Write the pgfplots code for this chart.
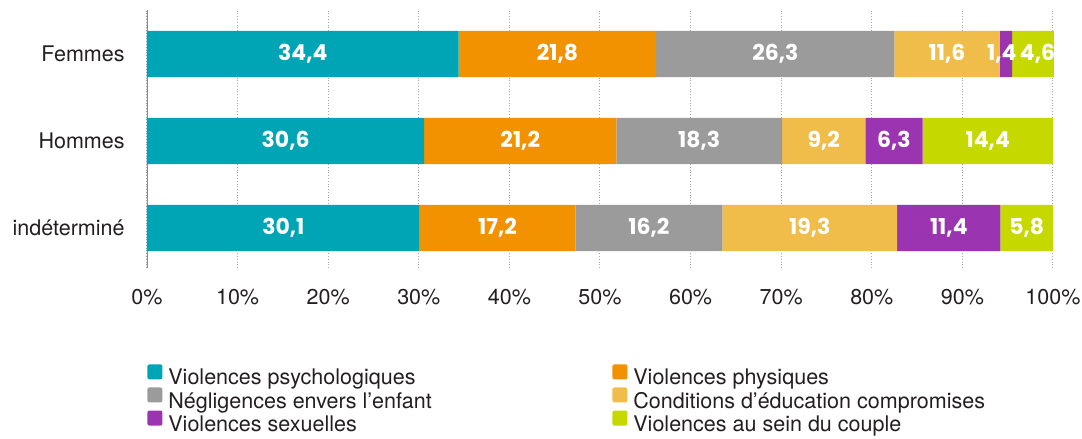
\documentclass[border=0pt]{standalone}
\usepackage{pgfplots}
\pgfplotsset{compat=1.18}
\usepackage{fontspec}
\setmainfont{TeX Gyre Heros}
\newfontfamily\lblfont{Poppins}
\definecolor{cpsy}{HTML}{00A5B5}
\definecolor{cphy}{HTML}{F39200}
\definecolor{cneg}{HTML}{9B9B9B}
\definecolor{cedu}{HTML}{F0BC4A}
\definecolor{csex}{HTML}{9B34B0}
\definecolor{ccou}{HTML}{C5D800}
\definecolor{txt}{HTML}{231F20}
\begin{document}
\begin{tikzpicture}
\begin{axis}[
  name=ax, at={(0,0)}, anchor=south west,
  scale only axis, width=453.45bp, height=129bp,
  xbar stacked, bar width=0.53,
  xmin=0, xmax=100.1, ymin=-0.46, ymax=2.506,
  ytick={0,1,2}, yticklabels={indéterminé,Hommes,Femmes},
  xtick={0,10,...,100},
  xticklabel={\pgfmathprintnumber{\tick}\%},
  major tick length=0pt,
  axis line style={draw=none},
  xmajorgrids, grid style={densely dotted, black!35, line width=0.5bp},
  ymajorgrids=false,
  /pgf/number format/assume math mode=true,
  ticklabel style={font=\fontsize{10.8}{13}\selectfont, text=txt},
  yticklabel style={anchor=east, inner sep=0pt, xshift=-11bp},
  xticklabel style={anchor=north, inner sep=0pt, yshift=-10.5bp},
  point meta=rawx,
  visualization depends on={rawy \as \ry},
  nodes near coords={\pgfmathprintnumber[use comma, fixed, fixed zerofill, precision=1]{\pgfplotspointmeta}},
  every node near coord/.append style={anchor=center, inner sep=0pt, text=white, font=\fontsize{11}{13}\lblfont\bfseries},
  legend columns=2,
  legend style={at={(0,-0.372)}, anchor=north west, draw=none, fill=none, inner sep=0pt,
    font=\fontsize{10.8}{12}\selectfont, text=txt, row sep=-0.75bp,
    nodes={inner sep=0pt, text height=8bp, text depth=2bp, anchor=west},
    /tikz/every odd column/.style={column sep=3bp}},
  legend image code/.code={\fill[#1, rounded corners=1bp] (0bp,-0.2bp) rectangle (7.5bp,7.3bp);},
]
\addplot[fill=cpsy, draw=none] coordinates {(34.4,2) (30.6,1) (30.1,0)};
\addplot[fill=cphy, draw=none] coordinates {(21.8,2) (21.2,1) (17.2,0)};
\addplot[fill=cneg, draw=none] coordinates {(26.3,2) (18.3,1) (16.2,0)};
\addplot[fill=cedu, draw=none] coordinates {(11.6,2) (9.2,1) (19.3,0)};
\addplot[fill=csex, draw=none, every node near coord/.append style={xshift={ifthenelse(\ry==2,-2,0)*1bp}}] coordinates {(1.4,2) (6.3,1) (11.4,0)};
\addplot[fill=ccou, draw=none, every node near coord/.append style={xshift={ifthenelse(\ry==2,2.2,0)*1bp}}] coordinates {(4.6,2) (14.4,1) (5.8,0)};
\legend{\makebox[222bp][l]{Violences psychologiques},Violences physiques,
  \makebox[222bp][l]{Négligences envers l’enfant},Conditions d’éducation compromises,
  \makebox[222bp][l]{Violences sexuelles},Violences au sein du couple}
\draw[black!45, line width=1.1bp] (rel axis cs:0,0) -- (rel axis cs:0,1);
\end{axis}
\pgfresetboundingbox
\path[use as bounding box] (-73.5bp,-85.5bp) rectangle (467.5bp,134bp);
\end{tikzpicture}
\end{document}
